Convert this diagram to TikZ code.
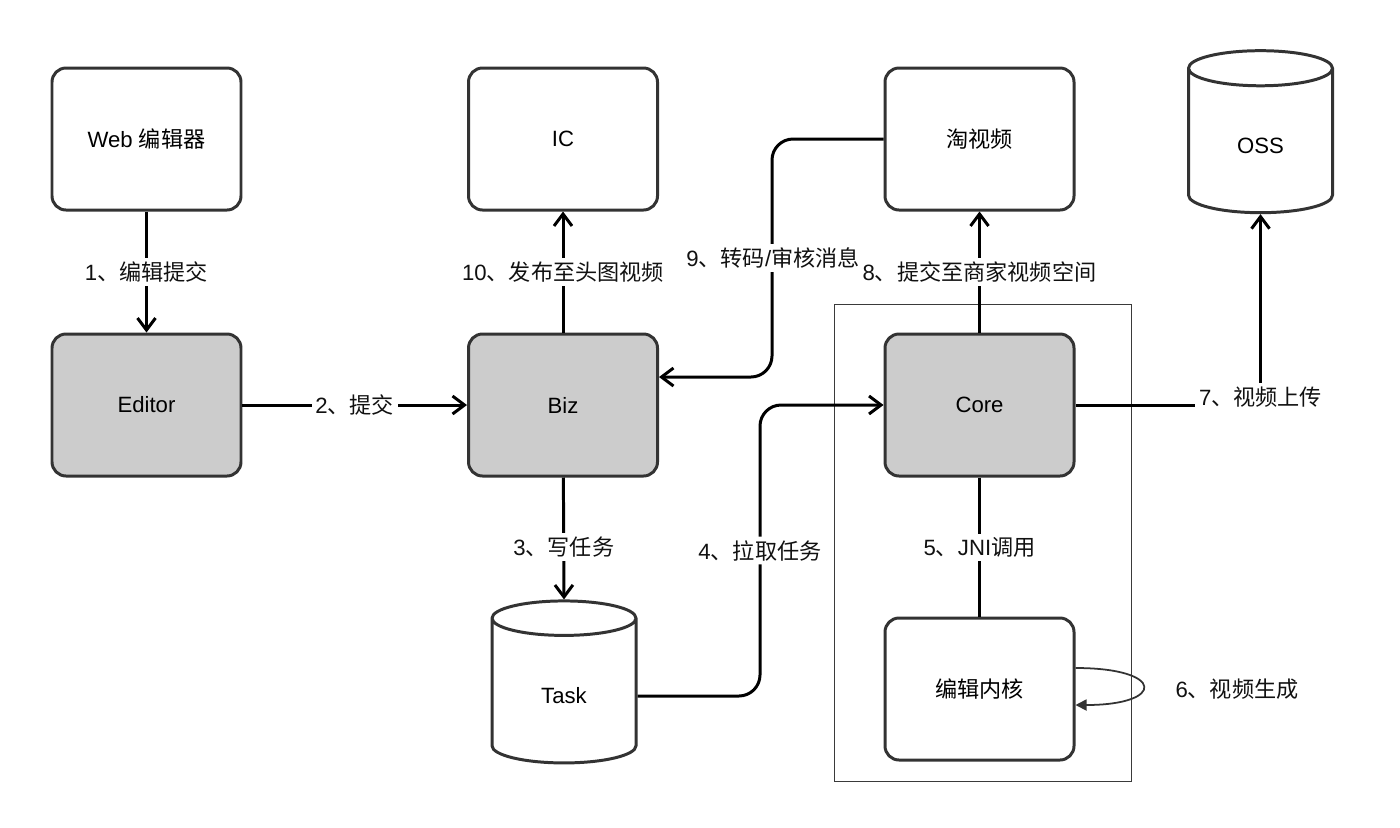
\documentclass[tikz,border=0pt]{standalone}
\usepackage{fontspec}
\setmainfont{Liberation Sans}
\newfontfamily\cjk{Noto Sans CJK SC}
\usepackage{xcolor}
\usepackage{tikz}
\usetikzlibrary{shapes.geometric, arrows.meta, positioning, calc}
\definecolor{boxline}{HTML}{333333}
\definecolor{boxgray}{HTML}{CCCCCC}
\definecolor{inkdark}{HTML}{111111}
\definecolor{frameline}{HTML}{3A3A3A}
\tikzset{
  lbl/.style={font=\fontsize{6.3}{7.5}\selectfont, text=inkdark, fill=white, inner sep=1pt},
  card/.style={fill=#1, draw=boxline, rounded corners=4pt, line width=0.85pt,
               font=\fontsize{6.3}{7.5}\selectfont, align=center,
               minimum width=1.89cm, minimum height=1.42cm},
  card/.default=white,
  store/.style={cylinder, shape border rotate=90, aspect=0.5, draw=boxline, fill=white,
                line width=0.85pt, font=\fontsize{6.3}{7.5}\selectfont,
                minimum width=1.44cm, minimum height=1.62cm},
  flow/.style={-{Straight Barb[length=1.2mm, width=1.8mm]}, line width=0.85pt, color=black},
  link/.style={line width=0.85pt, color=black},
}
\begin{document}
\begin{tikzpicture}[x=1cm, y=1cm]
  \useasboundingbox (0,0) rectangle (14,8.27);
  % Boxes
  \node[card] (web) at (1.465,6.88) {Web {\cjk 编辑器}};
  \node[card=boxgray] (editor) at (1.465,4.22) {Editor};
  \node[card] (ic) at (5.63,6.88) {IC};
  \node[card=boxgray] (biz) at (5.63,4.22) {Biz};
  \node[card] (taovideo) at (9.795,6.88) {\cjk 淘视频};
  \node[card=boxgray] (core) at (9.795,4.22) {Core};
  \node[card] (kernel) at (9.795,1.38) {\cjk 编辑内核};
  \node[store] (oss) at (12.605,6.81) {OSS};
  \node[store] (task) at (5.64,1.31) {Task};
  % Frame round core and kernel
  \draw[frameline, line width=0.4pt] ($(core.north west)+(-0.49,0.28)$) rectangle ($(kernel.south east)+(0.56,-0.2)$);
  % Bends
  \coordinate (pullbend) at (7.60,4.22);
  \coordinate (bizin) at ($(biz.east)+(0,0.28)$);
  \coordinate (msgbend) at (7.72,6.88);
  % Connectors
  \draw[flow] (web) -- node[lbl] {1{\cjk 、编辑提交}} (editor);
  \draw[flow] (editor) -- node[lbl] {2{\cjk 、提交}} (biz);
  \draw[flow] (biz) -- node[lbl] {10{\cjk 、发布至头图视频}} (ic);
  \draw[flow] (biz) -- node[lbl, pos=0.57] {3{\cjk 、写任务}} (task.north);
  \draw[flow, rounded corners=6pt] (task.east) -| node[lbl, pos=0.75] {4{\cjk 、拉取任务}} (pullbend) -- (core.west);
  \draw[flow, rounded corners=6pt] (taovideo.west) -- (msgbend) |- (bizin);
  \node[lbl] (msglbl) at (7.73,5.69) {9{\cjk 、转码}/{\cjk 审核消息}};
  \draw[flow] (core) -- node[lbl] {8{\cjk 、提交至商家视频空间}} (taovideo);
  \draw[link] (core) -- node[lbl] {5{\cjk 、}JNI{\cjk 调用}} (kernel);
  \draw[flow] (core.east) -| node[lbl, pos=0.5, yshift=0.08cm] {7{\cjk 、视频上传}} (oss.south);
  \draw[boxline, line width=0.5pt, -{Triangle[length=1.1mm, width=1.1mm]}]
    ([yshift=0.21cm]kernel.east) .. controls +(0.9,0) and +(0.9,0) .. ([yshift=-0.16cm]kernel.east);
  \node[lbl] (genlbl) at (12.37,1.38) {6{\cjk 、视频生成}};
\end{tikzpicture}
\end{document}
